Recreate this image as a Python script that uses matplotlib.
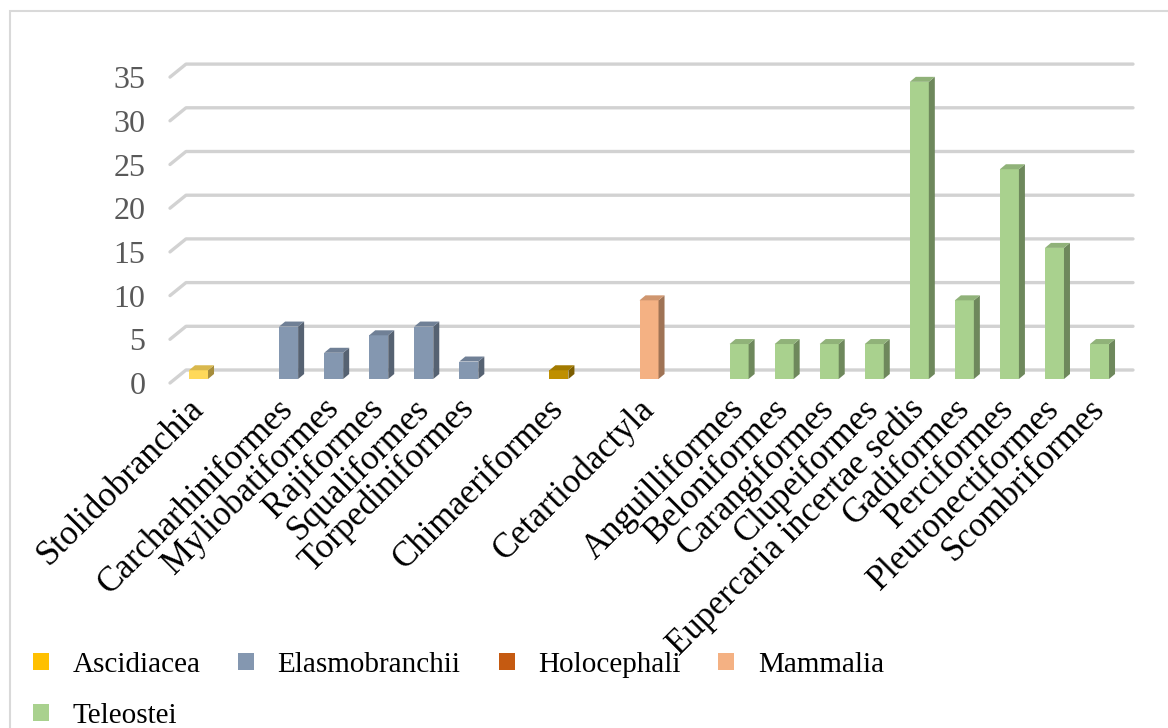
import matplotlib.pyplot as plt
import matplotlib.colors as mcolors
from matplotlib.patches import Polygon, Patch, Rectangle
from matplotlib.transforms import ScaledTranslation

# data
orders = ["Stolidobranchia",
          "Carcharhiniformes", "Myliobatiformes", "Rajiformes", "Squaliformes", "Torpediniformes",
          "Chimaeriformes",
          "Cetartiodactyla",
          "Anguilliformes", "Beloniformes", "Carangiformes", "Clupeiformes",
          "Eupercaria incertae sedis", "Gadiformes", "Perciformes", "Pleuronectiformes",
          "Scombriformes"]
counts = [1, 6, 3, 5, 6, 2, 1, 9, 4, 4, 4, 4, 34, 9, 24, 15, 4]
classes = ["Ascidiacea",
           "Elasmobranchii", "Elasmobranchii", "Elasmobranchii", "Elasmobranchii", "Elasmobranchii",
           "Holocephali",
           "Mammalia",
           "Teleostei", "Teleostei", "Teleostei", "Teleostei",
           "Teleostei", "Teleostei", "Teleostei", "Teleostei", "Teleostei"]
class_names = ["Ascidiacea", "Elasmobranchii", "Holocephali", "Mammalia", "Teleostei"]
legend_colors = ["#FFC000", "#8497B0", "#C55A11", "#F4B183", "#A9D18E"]
bar_colors = ["#FFD95A", "#8497B0", "#BF8F00", "#F4B183", "#A9D18E"]
yticks = [0, 5, 10, 15, 20, 25, 30, 35]

# one empty slot between classes
positions = []
pos = 0
for i, c in enumerate(classes):
    if i > 0 and c != classes[i - 1]:
        pos += 1
    positions.append(pos)
    pos += 1
nslots = pos

fig = plt.figure(figsize=(11.68, 7.28), dpi=100)
W, H = 1168, 728
slot_px = 45.05
unit_px = 8.74
left_px, base_px = 176, 379
ax = fig.add_axes([left_px / W, (H - base_px) / H, nslots * slot_px / W, 35 * unit_px / H])
ax.set_xlim(-0.5, nslots - 0.5)
ax.set_ylim(0, 35)
for s in ax.spines.values():
    s.set_visible(False)

# fake 3D gridlines: front-left diagonal then back wall
back_dy = 9 / unit_px
front_dy = -4 / unit_px
x_front = -0.5 - 6 / slot_px
x_back = -0.5 + 10 / slot_px
x_end = -0.5 + (1133 - left_px) / slot_px
for v in yticks:
    ax.plot([x_front, x_back, x_end], [v + front_dy, v + back_dy, v + back_dy],
            color="#d2d2d2", lw=2.4, solid_capstyle="round", clip_on=False, zorder=1)

# 3D-ish bars
w = 19 / slot_px
dx = 6 / slot_px
dy = 5 / unit_px
for x, h, c in zip(positions, counts, classes):
    base = mcolors.to_rgb(bar_colors[class_names.index(c)])
    side = tuple(v * 0.65 for v in base)
    top = tuple(v * 0.85 for v in base)
    ax.bar(x, h, width=w, color=base, zorder=3)
    ax.add_patch(Polygon([(x + w / 2, 0), (x + w / 2 + dx, dy), (x + w / 2 + dx, h + dy), (x + w / 2, h)],
                         closed=True, facecolor=side, edgecolor="none", zorder=3))
    ax.add_patch(Polygon([(x - w / 2, h), (x - w / 2 + dx, h + dy), (x + w / 2 + dx, h + dy), (x + w / 2, h)],
                         closed=True, facecolor=top, edgecolor="none", zorder=3))

serif = "Liberation Serif"
ax.set_yticks(yticks)
ax.set_yticklabels([str(v) for v in yticks], fontsize=23, family=serif, color="#595959")
ax.tick_params(axis="y", length=0, pad=22)
for lab in ax.get_yticklabels():
    lab.set_transform(lab.get_transform() + ScaledTranslation(0, -4 / 100, fig.dpi_scale_trans))

ax.set_xticks(positions)
ax.set_xticklabels(orders, fontsize=25, family=serif, color="black",
                   rotation=45, ha="right", va="center", rotation_mode="anchor")
ax.tick_params(axis="x", length=0, pad=18)

# legend (row-major order)
order = [0, 4, 1, 2, 3]
handles = [Patch(facecolor=legend_colors[i], label=class_names[i]) for i in order]
fig.legend(handles=handles, loc="upper left", bbox_to_anchor=(33 / W, 1 - 652 / H),
           ncol=4, frameon=False, prop={"family": serif, "size": 21},
           handlelength=0.55, handleheight=0.55, handletextpad=0.8,
           columnspacing=1.3, labelspacing=0.85, borderpad=0, borderaxespad=0)

# chart area border
fig.patches.append(Rectangle((10 / W, -0.1), 1.2, 1.1 - 11 / H, transform=fig.transFigure,
                             fill=False, edgecolor="#d9d9d9", lw=1.5))

fig.savefig("out.png", dpi=100)
